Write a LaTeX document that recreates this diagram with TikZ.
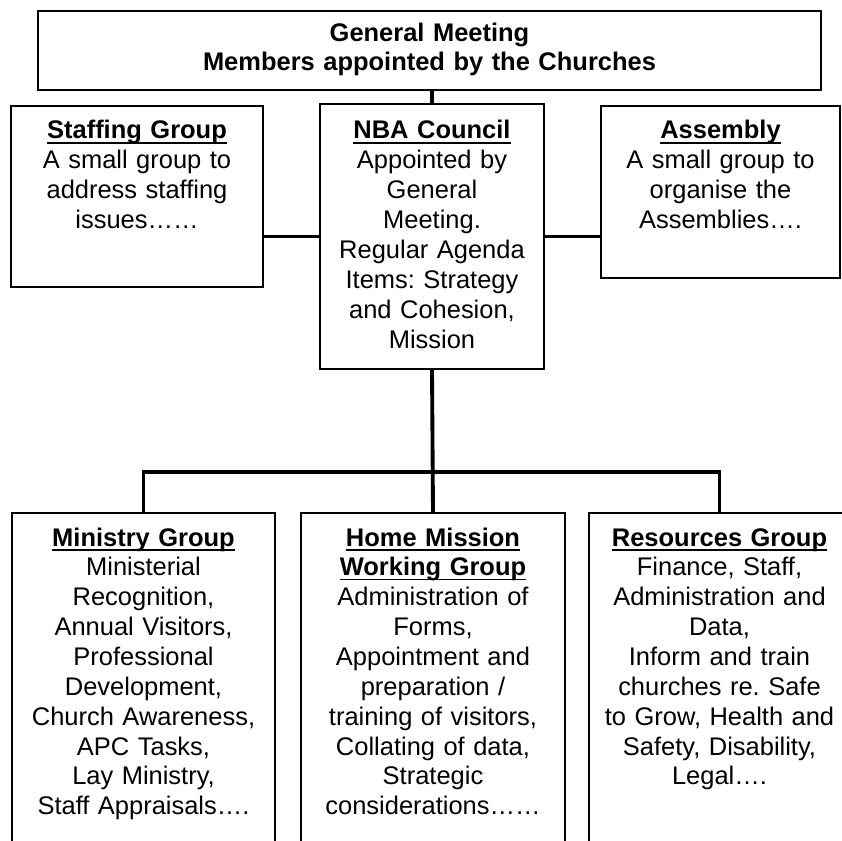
\documentclass[tikz,border=0pt]{standalone}
\usepackage{fontspec}
\setmainfont{Liberation Sans}
\usetikzlibrary{positioning}
\frenchspacing

% bold underlined heading of a group box
\newcommand{\grouphead}[1]{\leavevmode\setbox0\hbox{\bfseries #1}%
  \rlap{\rule[-2.6pt]{\wd0}{1.1pt}}\box0}

\begin{document}
\begin{tikzpicture}[
  x=0.02cm, y=-0.02cm,
  box/.style={rectangle, draw, line width=1pt, inner sep=0pt},
  txt/.style={anchor=base, inner sep=0pt, align=center, text width=#1,
    font=\fontsize{14.5}{17}\selectfont},
  txt/.default={5cm},
  link/.style={line width=2.2pt},
]

\clip (0,0) rectangle (842,841);

% --- Top box ---
\node[box, minimum width=15.66cm, minimum height=1.58cm] (gm) at (429.5, 50.5) {};
\node[txt=15cm, font=\fontsize{14.5}{16.4}\selectfont\bfseries] (gmtxt) at (429.5, 42)
  {General Meeting\\Members appointed by the Churches};

% --- Second row ---
\node[box, minimum width=5.04cm, minimum height=3.62cm] (staff) at (137, 196.5) {};
\node[box, minimum width=4.48cm, minimum height=5.30cm] (nba)   at (432, 236.5) {};
\node[box, minimum width=4.78cm, minimum height=3.44cm] (asm)   at (720.5, 192) {};

\node[txt=5cm] (stafftxt) at (137, 139)
  {\grouphead{Staffing Group}\\A small group to\\address staffing\\issues……};
\node[txt=4.4cm] (nbatxt) at (432, 139)
  {\grouphead{NBA Council}\\Appointed by\\General\\Meeting.\\Regular Agenda\\
   Items: Strategy\\and Cohesion,\\Mission};
\node[txt=4.7cm] (asmtxt) at (720.5, 139)
  {\grouphead{Assembly}\\A small group to\\organise the\\Assemblies….};

% --- Bottom row (runs past the lower edge) ---
\node[box, minimum width=5.26cm, minimum height=7.74cm] (mgroup) at (143.5, 706.5) {};
\node[box, minimum width=5.28cm, minimum height=7.74cm] (hmwg)   at (433, 706.5) {};
\node[box, minimum width=5.22cm, minimum height=7.74cm] (rgroup) at (719.5, 706.5) {};

\node[txt=5.2cm] (mgrouptxt) at (143.5, 546)
  {\grouphead{Ministry Group}\\Ministerial\\Recognition,\\Annual Visitors,\\
   Professional\\Development,\\Church Awareness,\\APC Tasks,\\Lay Ministry,\\
   Staff Appraisals….};
\node[txt=5.2cm] (hmwgtxt) at (433, 546)
  {\grouphead{Home Mission}\\\grouphead{Working Group}\\Administration of\\Forms,\\
   Appointment and\\preparation /\\training of visitors,\\Collating of data,\\
   Strategic\\considerations……};
\node[txt=5.2cm] (rgrouptxt) at (719.5, 546)
  {\grouphead{Resources Group}\\Finance, Staff,\\Administration and\\Data,\\
   Inform and train\\churches re. Safe\\to Grow, Health and\\Safety, Disability,\\
   Legal….};

% --- Connectors ---
\coordinate (bar) at (432, 472);
\draw[link] (nba.north) -- (nba.north |- gm.south);
\draw[link] (nba.west) -- (nba.west -| staff.east);
\draw[link] (nba.east) -- (nba.east -| asm.west);
\draw[link] (nba.south) -- (hmwg.north);
\draw[link] (mgroup.north) |- (bar) -| (rgroup.north);

\end{tikzpicture}
\end{document}
